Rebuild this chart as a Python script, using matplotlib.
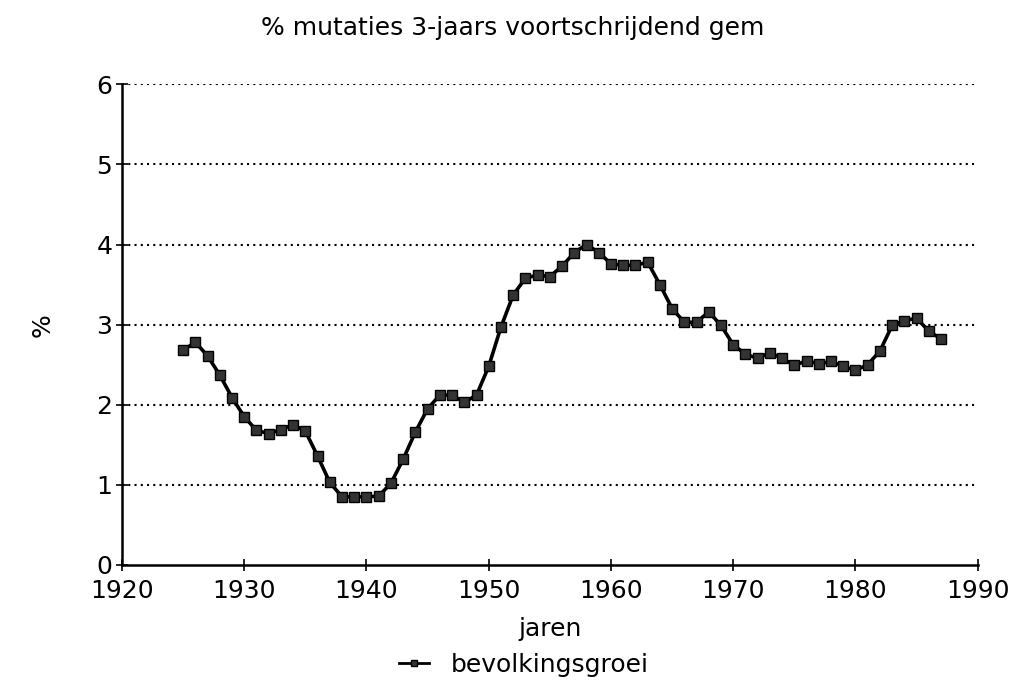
import numpy as np
import matplotlib.pyplot as plt
from matplotlib.lines import Line2D

plt.rcParams['font.family'] = ['DejaVu Sans']

# 3-year moving average of population growth, %
jaren = list(range(1925, 1988))
groei = [2.68, 2.78, 2.61, 2.37, 2.09, 1.85, 1.68, 1.64, 1.69, 1.75,
         1.67, 1.36, 1.03, 0.85, 0.85, 0.85, 0.86, 1.02, 1.32, 1.66,
         1.95, 2.12, 2.12, 2.03, 2.12, 2.48, 2.97, 3.37, 3.58, 3.62,
         3.60, 3.73, 3.90, 4.00, 3.90, 3.76, 3.74, 3.74, 3.78, 3.50,
         3.20, 3.03, 3.03, 3.16, 2.99, 2.75, 2.63, 2.58, 2.65, 2.58,
         2.49, 2.55, 2.51, 2.54, 2.48, 2.43, 2.50, 2.67, 2.99, 3.05,
         3.08, 2.92, 2.82]

xticks = [1920, 1930, 1940, 1950, 1960, 1970, 1980, 1990]
yticks = [0, 1, 2, 3, 4, 5, 6]

fig = plt.figure(figsize=(10.21, 6.82), dpi=100)
ax = fig.add_axes([0.1195, 0.1716, 0.8381, 0.7048])

ax.plot(jaren, groei, color='black', lw=2.6, marker='s', ms=7,
        mfc='#333333', mec='black', mew=1)

ax.set_xlim(1920, 1990)
ax.set_ylim(0, 6)
ax.set_xticks(xticks)
ax.set_yticks(yticks)
ax.tick_params(axis='both', direction='inout', length=8, width=1.2,
               labelsize=18)
ax.tick_params(axis='x', pad=6)
ax.tick_params(axis='y', pad=3)
for y in yticks[1:]:
    ax.axhline(y, color='black', lw=1.5, ls=(0, (1, 2)), zorder=0)

for s in ['top', 'right']:
    ax.spines[s].set_visible(False)
ax.spines['left'].set_linewidth(1.8)
ax.spines['bottom'].set_linewidth(1.8)

fig.suptitle('% mutaties 3-jaars voortschrijdend gem', fontsize=18,
             x=0.502, y=0.959, va='center')
ax.set_xlabel('jaren', fontsize=18, labelpad=10)
ax.set_ylabel('%', fontsize=18, labelpad=30)

handle = Line2D([], [], color='black', lw=2, marker='s', ms=5,
                mfc='#333333', mec='black')
fig.legend([handle], ['bevolkingsgroei'], loc='center',
           bbox_to_anchor=(0.513, 0.025), frameon=False, fontsize=18,
           handlelength=1.2, handletextpad=0.9)

plt.savefig('out.png', dpi=100)
